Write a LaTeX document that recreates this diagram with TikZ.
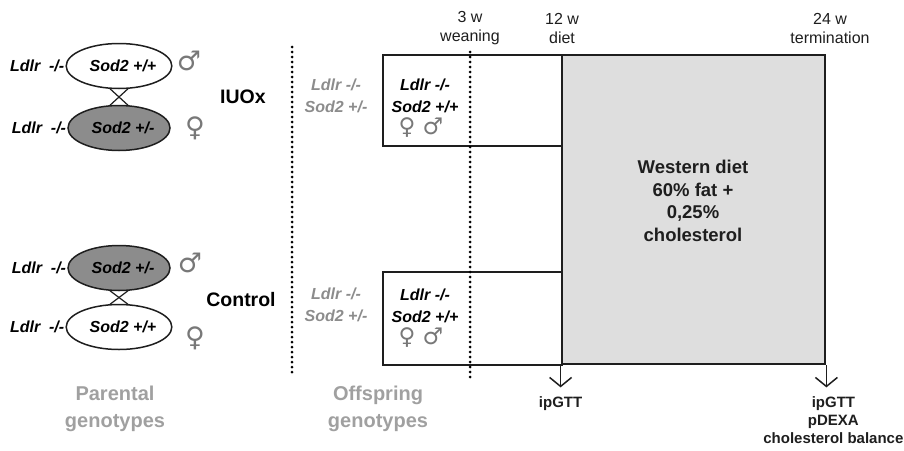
\documentclass[tikz,border=0pt]{standalone}
\usepackage{fontspec}
\setmainfont{Liberation Sans}
\newfontfamily\symfont{DejaVu Sans}
\usetikzlibrary{arrows.meta,positioning,shapes.geometric,calc}
\definecolor{boxgray}{RGB}{222,222,222}
\definecolor{ellgray}{RGB}{140,140,140}
\definecolor{txtgray}{RGB}{160,160,160}
\definecolor{gengray}{RGB}{140,140,140}
\definecolor{symgray}{RGB}{120,120,120}
\definecolor{linedark}{RGB}{30,30,30}
\newcommand{\malesym}{{\symfont\char"2642}}
\newcommand{\femalesym}{{\symfont\char"2640}}

\begin{document}
\begin{tikzpicture}[x=1pt,y=-1pt,
  par/.style={draw=linedark,line width=1.5pt,ellipse,minimum width=102pt,
              minimum height=45pt,inner sep=0pt,
              font=\fontsize{16}{18}\selectfont\bfseries\itshape},
  gen/.style={font=\fontsize{16}{22}\selectfont\bfseries\itshape,inner sep=1pt,align=center},
  grp/.style={font=\fontsize{19.5}{22}\selectfont\bfseries},
  sym/.style={font=\fontsize{27}{28}\selectfont\symfont,text=symgray,inner sep=0pt},
  sect/.style={font=\fontsize{20}{27}\selectfont\bfseries,text=txtgray,align=center},
  age/.style={font=\fontsize{16}{19}\selectfont,text=linedark,align=center},
  box/.style={draw=linedark,line width=2.8pt,rectangle,inner sep=0pt},
  dots/.style={line width=3pt,dash pattern=on 0pt off 5pt,line cap=round},
  arr/.style={-{Straight Barb[length=9pt,width=22pt,line width=1.5pt]},line width=1.5pt,linedark},
  test/.style={font=\fontsize{15}{18}\selectfont\bfseries,align=center,text=linedark}
]
\useasboundingbox (0,0) rectangle (904,450);

% parental crosses
\node[par] (iuoM) at (119,66) {\hspace{8pt}Sod2 +/+};
\node[par,fill=ellgray] (iuoF) at (119,128) {\hspace{8pt}Sod2 +/-};
\node[par,fill=ellgray] (ctlM) at (119,268) {\hspace{8pt}Sod2 +/-};
\node[par] (ctlF) at (119,327) {\hspace{8pt}Sod2 +/+};
\node[gen,anchor=east] (iuoMg) at (iuoM.west) {Ldlr\ \ -/-};
\node[gen,anchor=east] (iuoFg) at (iuoF.west) {Ldlr\ \ -/-};
\node[gen,anchor=east] (ctlMg) at (ctlM.west) {Ldlr\ \ -/-};
\node[gen,anchor=east] (ctlFg) at (ctlF.west) {Ldlr\ \ -/-};
\foreach \a/\b in {iuoM/iuoF,ctlM/ctlF}{
  \draw[line width=1.2pt,linedark] ($(\a.south)+(-9,-0.5)$) -- ($(\b.north)+(9,0.5)$);
  \draw[line width=1.2pt,linedark] ($(\a.south)+(9,-0.5)$) -- ($(\b.north)+(-9,0.5)$);
}
\node[sym] (iuoMs) at (189,61) {\malesym};
\node[sym] (iuoFs) at (195,128) {\femalesym};
\node[sym] (ctlMs) at (190,263) {\malesym};
\node[sym] (ctlFs) at (195,338) {\femalesym};
\node[grp] (iuo) at (243,97) {IUOx};
\node[grp] (ctl) at (241,300) {Control};
\coordinate (parTop) at (292,47);
\coordinate (parBot) at (292,375);
\draw[dots] (parTop) -- (parBot);

% offspring and timeline
\node[box,minimum width=179pt,minimum height=91pt] (iuoOff) at (472.5,100.5) {};
\node[box,minimum width=179pt,minimum height=93pt] (ctlOff) at (472.5,318.5) {};
\node[box,fill=boxgray,minimum width=263pt,minimum height=309pt] (diet) at (693.5,209.5) {};
\node[gen,text=gengray] (iuoPar) at (336,96) {Ldlr -/-\\Sod2 +/-};
\node[gen,text=gengray] (ctlPar) at (336,305) {Ldlr -/-\\Sod2 +/-};
\node[gen] (iuoKid) at (425,96) {Ldlr -/-\\Sod2 +/+};
\node[gen] (ctlKid) at (425,306) {Ldlr -/-\\Sod2 +/+};
\node[sym,font=\fontsize{23}{24}\selectfont\symfont] (iuoKs) at (421,128) {\femalesym\ \malesym};
\node[sym,font=\fontsize{23}{24}\selectfont\symfont] (ctlKs) at (421,338) {\femalesym\ \malesym};
\coordinate (offTop) at (470,52);
\coordinate (offBot) at (470,380);
\draw[dots] (offTop) -- (offBot);
\node[age] (wean) at (470,28) {3 w\\weaning};
\node[age] (start) at (562,28) {12 w\\diet};
\node[age] (term) at (830,28) {24 w\\termination};
\node[font=\fontsize{18.5}{22.5}\selectfont\bfseries,align=center,text=linedark] (dietTxt)
  at (693,201) {Western diet\\60\% fat +\\0,25\%\\cholesterol};
\coordinate (t1) at ($(diet.south west)+(0,22)$);
\coordinate (t2) at ($(diet.south east)+(0,22)$);
\draw[arr] (diet.south west) -- (t1);
\draw[arr] (diet.south east) -- (t2);
\node[test,anchor=north] (gtt1) at ($(t1)+(0,6)$) {ipGTT};
\node[test,anchor=north] (gtt2) at ($(t2)+(7,6)$) {ipGTT\\pDEXA\\cholesterol balance};
\node[sect] (parSec) at (115,409) {Parental\\genotypes};
\node[sect] (offSec) at (378,409) {Offspring\\genotypes};
\end{tikzpicture}
\end{document}
